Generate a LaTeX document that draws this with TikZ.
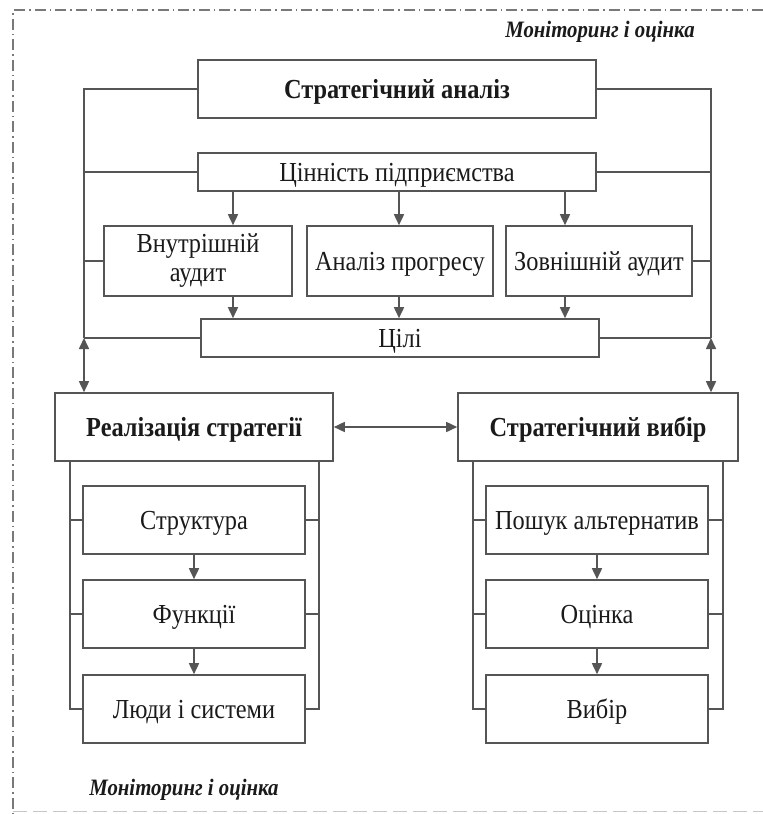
\documentclass[tikz,border=0pt]{standalone}
\usepackage{fontspec}
\setmainfont{Liberation Serif}[FakeStretch=0.885]
\usetikzlibrary{arrows.meta}
\definecolor{lc}{HTML}{555555}
\definecolor{tc}{HTML}{1A1A1A}
\begin{document}
\begin{tikzpicture}[x=1pt,y=-1pt,
  ln/.style={draw=lc,line width=1.6pt},
  tip/.tip={Triangle[length=11pt,width=10pt]},
  arr/.style={ln,-tip},
  dbl/.style={ln,tip-tip},
  boxbase/.style={draw=lc,line width=1.6pt,fill=white,inner sep=0pt,text=tc,
    font=\fontsize{27.5}{29}\selectfont},
  box/.style={boxbase,text height=18.2pt,text depth=0pt},
  bbox/.style={box,font=\fontsize{27.5}{29}\selectfont\bfseries},
  frameline/.style={draw=gray!95!black,line width=1.5pt,dash pattern=on 11pt off 4pt on 1.5pt off 4pt},
  note/.style={text=tc,font=\fontsize{23.5}{26}\selectfont\bfseries\itshape}
]
\useasboundingbox (0,0) rectangle (763,814);
\fill[white] (0,0) rectangle (763,814);
% frame
\draw[frameline] (763,10) -- (13,10) -- (13,814);
\draw[draw=gray!45,line width=1pt,dash pattern=on 14pt off 6pt] (13,811) -- (763,811);

\node[note] (t1) at (600,32) {Моніторинг і оцінка};
\node[note] (t2) at (184,790) {Моніторинг і оцінка};

% top block
\node[bbox,minimum width=398pt,minimum height=58pt] (sa) at (397,89) {Стратегічний аналіз};
\node[box,minimum width=398pt,minimum height=38pt] (cv) at (397,172) {Цінність підприємства};
\node[boxbase,align=center,minimum width=188pt,minimum height=70pt] (b1) at (198,261) {Внутрішній\\аудит};
\node[box,minimum width=186pt,minimum height=70pt] (b2) at (400,261) {Аналіз прогресу};
\node[box,minimum width=186pt,minimum height=70pt] (b3) at (599,261) {Зовнішній аудит};
\node[box,minimum width=398pt,minimum height=38pt] (gl) at (400,338) {Цілі};

% main pair
\node[bbox,minimum width=278pt,minimum height=68pt] (rs) at (194,427) {Реалізація стратегії};
\node[bbox,minimum width=280pt,minimum height=68pt] (sv) at (598,427) {Стратегічний вибір};

% left column
\node[box,minimum width=222pt,minimum height=68pt] (s1) at (194,520) {Структура};
\node[box,minimum width=222pt,minimum height=68pt] (s2) at (194,614) {Функції};
\node[box,minimum width=222pt,minimum height=68pt] (s3) at (194,709) {Люди і системи};

% right column
\node[box,minimum width=222pt,minimum height=68pt] (c1) at (597,520) {Пошук альтернатив};
\node[box,minimum width=222pt,minimum height=68pt] (c2) at (597,614) {Оцінка};
\node[box,minimum width=222pt,minimum height=68pt] (c3) at (597,709) {Вибір};

% rails
\coordinate (L) at (84,0);
\coordinate (R) at (711,0);
\coordinate (a1) at (233,0);
\coordinate (a2) at (399,0);
\coordinate (a3) at (565,0);
\coordinate (LL) at (70,0);
\coordinate (LR) at (319,0);
\coordinate (RL) at (473,0);
\coordinate (RR) at (723,0);
\coordinate (m1) at (194,0);
\coordinate (m2) at (597,0);

% outer loop left
\draw[ln] (sa.west) -| (L |- gl.west);
\draw[ln] (cv.west) -- (cv.west -| L);
\draw[ln] (b1.west) -- (b1.west -| L);
\draw[ln] (gl.west) -- (gl.west -| L);
\draw[dbl] (L |- gl.west) -- (L |- rs.north);
% outer loop right
\draw[ln] (sa.east) -| (R |- gl.east);
\draw[ln] (cv.east) -- (cv.east -| R);
\draw[ln] (b3.east) -- (b3.east -| R);
\draw[ln] (gl.east) -- (gl.east -| R);
\draw[dbl] (R |- gl.east) -- (R |- sv.north);

% inner arrows
\draw[arr] (a1 |- cv.south) -- (a1 |- b1.north);
\draw[arr] (a2 |- cv.south) -- (a2 |- b2.north);
\draw[arr] (a3 |- cv.south) -- (a3 |- b3.north);
\draw[arr] (a1 |- b1.south) -- (a1 |- gl.north);
\draw[arr] (a2 |- b2.south) -- (a2 |- gl.north);
\draw[arr] (a3 |- b3.south) -- (a3 |- gl.north);

% between main boxes
\draw[dbl] (rs.east) -- (sv.west);

% left column rails
\draw[ln] (LL |- rs.south) -- (LL |- s3.west) -- (s3.west);
\draw[ln] (LL |- s1.west) -- (s1.west);
\draw[ln] (LL |- s2.west) -- (s2.west);
\draw[ln] (LR |- rs.south) -- (LR |- s3.east) -- (s3.east);
\draw[ln] (LR |- s1.east) -- (s1.east);
\draw[ln] (LR |- s2.east) -- (s2.east);
\draw[arr] (m1 |- s1.south) -- (m1 |- s2.north);
\draw[arr] (m1 |- s2.south) -- (m1 |- s3.north);

% right column rails
\draw[ln] (RL |- sv.south) -- (RL |- c3.west) -- (c3.west);
\draw[ln] (RL |- c1.west) -- (c1.west);
\draw[ln] (RL |- c2.west) -- (c2.west);
\draw[ln] (RR |- sv.south) -- (RR |- c3.east) -- (c3.east);
\draw[ln] (RR |- c1.east) -- (c1.east);
\draw[ln] (RR |- c2.east) -- (c2.east);
\draw[arr] (m2 |- c1.south) -- (m2 |- c2.north);
\draw[arr] (m2 |- c2.south) -- (m2 |- c3.north);
\end{tikzpicture}
\end{document}
